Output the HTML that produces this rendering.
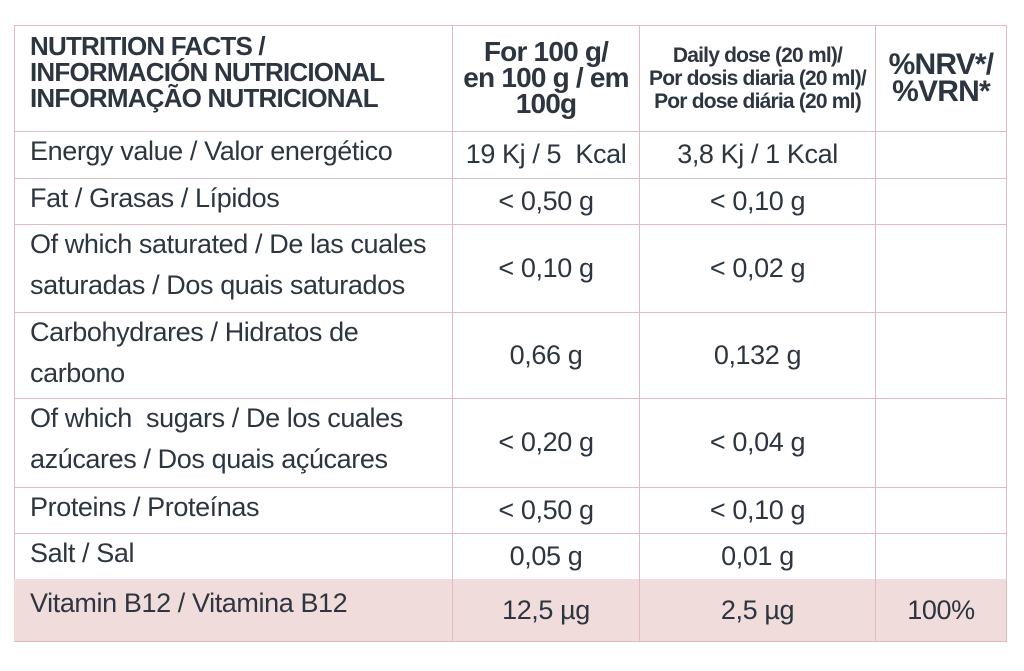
<!DOCTYPE html>
<html><head><meta charset="utf-8"><style>
html,body{margin:0;padding:0;background:#fff;width:1024px;height:671px;overflow:hidden}
body{font-family:"Liberation Sans",sans-serif;color:#2d3640;position:relative}
.c{position:absolute;box-sizing:border-box;border-right:1px solid #e3b9c2;border-bottom:1px solid #e3b9c2;display:flex;align-items:center;font-size:27px;letter-spacing:-0.4px;line-height:41px}
.l{padding-left:16px}
.m{justify-content:center;text-align:center}
.h{font-weight:bold;letter-spacing:-0.8px}
.v{background:#f1dcdc}
.sq{display:inline-block;white-space:nowrap}
.mq{display:inline-block;white-space:nowrap}
</style></head><body>
<div style="position:absolute;left:14px;top:25px;width:993px;height:617px;border-left:1px solid #e3b9c2;border-top:1px solid #e3b9c2;box-sizing:border-box"></div>
<div id="t"></div>
<script>
const rows=[
 [25,131,"NUTRITION FACTS /<br>INFORMACIÓN NUTRICIONAL<br>INFORMAÇÃO NUTRICIONAL","For 100 g/<br>en 100 g / em<br>100g","Daily dose (20 ml)/<br>Por dosis diaria (20 ml)/<br>Por dose diária (20 ml)","%NRV*/<br>%VRN*"],
 [131,178,"Energy value / Valor energético","19 Kj / 5 &nbsp;Kcal","3,8 Kj / 1 Kcal",""],
 [178,224,"Fat / Grasas / Lípidos","˂ 0,50 g","˂ 0,10 g",""],
 [224,312,"Of which saturated / De las cuales<br>saturadas / Dos quais saturados","˂ 0,10 g","˂ 0,02 g",""],
 [312,398,"Carbohydrares / Hidratos de<br>carbono","0,66 g","0,132 g",""],
 [398,487,"Of which &nbsp;sugars / De los cuales<br>azúcares / Dos quais açúcares","˂ 0,20 g","˂ 0,04 g",""],
 [487,533,"Proteins / Proteínas","˂ 0,50 g","˂ 0,10 g",""],
 [533,579,"Salt / Sal","0,05 g","0,01 g",""],
 [579,641,"Vitamin B12 / Vitamina B12","12,5 µg","2,5 µg","100%"]
];
const cols=[14,453,640,876,1007];
const names=["label","per-100g","daily-dose","nrv"];
const hfs=[26,28,21,30], hlh=[26,26,23,27];
const t=document.getElementById('t');
rows.forEach((r,i)=>{
 for(let j=0;j<4;j++){
  const d=document.createElement('div');
  
  
  let cls='c '+(j==0?'l':'m');
  if(i==0)cls+=' h';
  if(i==8)cls+=' v';
  d.className=cls;
  d.style.left=cols[j]+'px';d.style.top=r[0]+'px';
  d.style.width=(cols[j+1]-cols[j])+'px';d.style.height=(r[1]-r[0]+1)+'px';
  if(j==0&&i>0){d.style.alignItems='flex-start';d.style.paddingTop=(i==8?4:0)+'px';}
  if(i==0){d.style.fontSize=hfs[j]+'px';d.style.lineHeight=hlh[j]+'px';if(j==0){d.style.alignItems='flex-start';d.style.paddingTop='8px';}}
  d.innerHTML='<span class="'+(j==0?'sq':'mq')+'">'+r[j+2]+'</span>';
  t.appendChild(d);
 }
});
</script>
</body></html>
